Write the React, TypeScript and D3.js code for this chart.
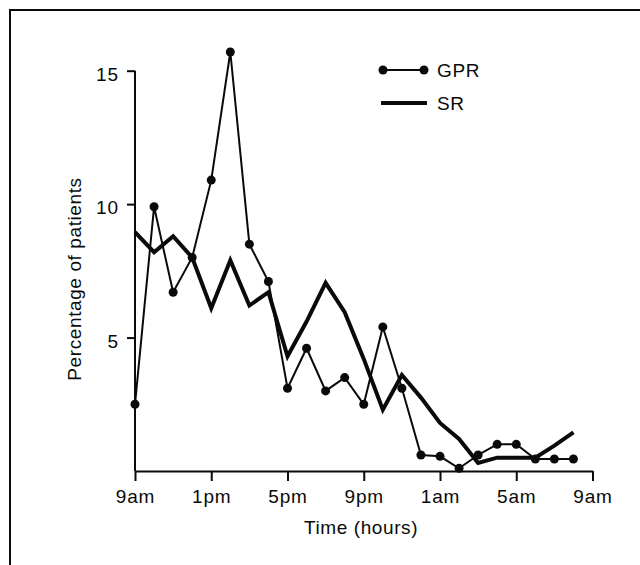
import React, { useRef, useEffect } from "react";
import * as d3 from "d3";

// hours after 9am
const hours = [0, 1, 2, 3, 4, 5, 6, 7, 8, 9, 10, 11, 12, 13, 14, 15, 16, 17, 18, 19, 20, 21, 22, 23];
const gprValues = [2.5, 9.9, 6.7, 8.0, 10.9, 15.7, 8.5, 7.1, 3.1, 4.6, 3.0, 3.5, 2.5, 5.4, 3.1, 0.6, 0.55, 0.1, 0.6, 1.0, 1.0, 0.45, 0.45, 0.45];
const srValues = [8.95, 8.2, 8.8, 8.0, 6.1, 7.9, 6.2, 6.7, 4.3, 5.6, 7.05, 5.95, 4.2, 2.3, 3.6, 2.75, 1.8, 1.2, 0.3, 0.5, 0.5, 0.5, 0.95, 1.45];
const xTicks = [0, 4, 8, 12, 16, 20, 24];
const xTickLabels = ["9am", "1pm", "5pm", "9pm", "1am", "5am", "9am"];
const yTicks = [5, 10, 15];

function App() {
  const svgRef = useRef<SVGSVGElement>(null);
  const width = 640;
  const height = 565;

  useEffect(() => {
    const svg = d3.select(svgRef.current);
    svg.selectAll("*").remove();

    const font = "'Liberation Sans', Arial, Helvetica, sans-serif";
    const ink = "#0a0a0a";

    // frame around the figure (open on right and bottom)
    svg.append("rect")
      .attr("x", 10).attr("y", 10)
      .attr("width", 700).attr("height", 700)
      .attr("fill", "none")
      .attr("stroke", ink)
      .attr("stroke-width", 2);

    const xScale = d3.scaleLinear().domain([0, 24]).range([135, 592.5]);
    const yScale = d3.scaleLinear().domain([0, 15]).range([471, 70.7]);

    // axes
    const xAxis = d3.axisBottom(xScale)
      .tickValues(xTicks)
      .tickFormat((d, i) => xTickLabels[i])
      .tickSize(10)
      .tickPadding(9)
      .tickSizeOuter(0);
    const gx = svg.append("g")
      .attr("transform", `translate(0,${yScale(0)})`)
      .call(xAxis);
    gx.select(".domain").attr("stroke", ink).attr("stroke-width", 2);
    gx.selectAll(".tick line").attr("stroke", ink).attr("stroke-width", 2);
    gx.selectAll(".tick text")
      .attr("font-family", font)
      .attr("font-size", 19)
      .attr("letter-spacing", 0.9)
      .attr("fill", ink);

    const yAxis = d3.axisLeft(yScale)
      .tickValues(yTicks)
      .tickSize(8)
      .tickPadding(8)
      .tickSizeOuter(0);
    const gy = svg.append("g")
      .attr("transform", `translate(${xScale(0)},0)`)
      .call(yAxis);
    gy.select(".domain")
      .attr("d", `M0,${yScale(0)}V${yScale(15)}`)
      .attr("stroke", ink).attr("stroke-width", 2);
    gy.selectAll(".tick line").attr("stroke", ink).attr("stroke-width", 2);
    gy.selectAll(".tick text")
      .attr("font-family", font)
      .attr("font-size", 19)
      .attr("dy", "0.5em")
      .attr("letter-spacing", 0.9)
      .attr("fill", ink);

    // axis titles
    svg.append("text")
      .attr("x", 361).attr("y", 534)
      .attr("text-anchor", "middle")
      .attr("font-family", font)
      .attr("font-size", 19)
      .attr("letter-spacing", 0.6)
      .attr("fill", ink)
      .text("Time (hours)");

    svg.append("text")
      .attr("transform", "translate(81,279) rotate(-90)")
      .attr("text-anchor", "middle")
      .attr("font-family", font)
      .attr("font-size", 19)
      .attr("letter-spacing", 0.6)
      .attr("fill", ink)
      .text("Percentage of patients");

    const line = d3.line<number>()
      .x((d, i) => xScale(hours[i]))
      .y(d => yScale(d));

    // SR thick line
    svg.append("path")
      .datum(srValues)
      .attr("d", line)
      .attr("fill", "none")
      .attr("stroke", ink)
      .attr("stroke-width", 4)
      .attr("stroke-linejoin", "miter");

    // GPR thin line with dots
    svg.append("path")
      .datum(gprValues)
      .attr("d", line)
      .attr("fill", "none")
      .attr("stroke", ink)
      .attr("stroke-width", 2);

    svg.append("g")
      .selectAll("circle")
      .data(gprValues)
      .join("circle")
      .attr("cx", (d, i) => xScale(hours[i]))
      .attr("cy", d => yScale(d))
      .attr("r", 4.5)
      .attr("fill", ink);

    // legend
    const legend = svg.append("g");
    legend.append("line")
      .attr("x1", 383).attr("x2", 424)
      .attr("y1", 70).attr("y2", 70)
      .attr("stroke", ink).attr("stroke-width", 2);
    legend.selectAll("circle")
      .data([383, 424])
      .join("circle")
      .attr("cx", d => d).attr("cy", 70).attr("r", 4.5)
      .attr("fill", ink);
    legend.append("line")
      .attr("x1", 381).attr("x2", 427)
      .attr("y1", 103).attr("y2", 103)
      .attr("stroke", ink).attr("stroke-width", 4);
    legend.selectAll("text")
      .data([["GPR", 77], ["SR", 110]])
      .join("text")
      .attr("x", 437)
      .attr("y", d => d[1] as number)
      .attr("font-family", font)
      .attr("font-size", 19)
      .attr("letter-spacing", 0.6)
      .attr("fill", ink)
      .text(d => d[0] as string);
  }, []);

  return (
    <svg
      ref={svgRef}
      width={width}
      height={height}
      style={{ position: "absolute", left: 0, top: 0, background: "#fff" }}
    ></svg>
  );
}

export default App;
